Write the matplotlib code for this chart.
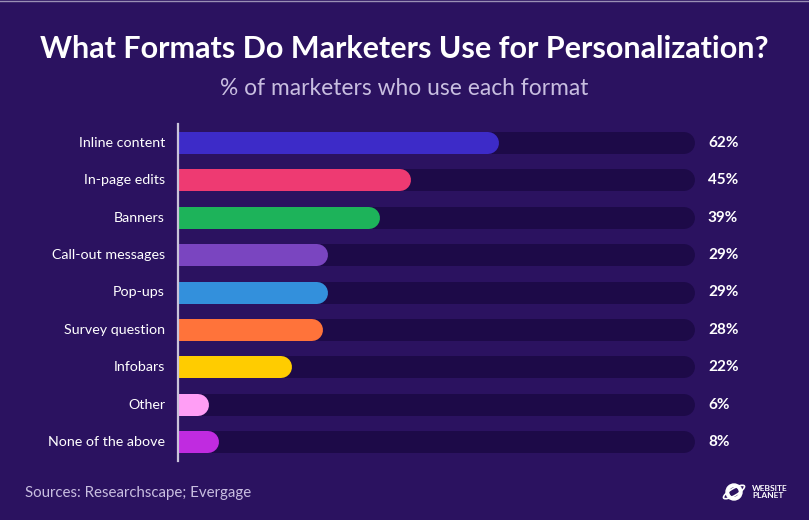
import matplotlib.pyplot as plt
from matplotlib.patches import Circle, Ellipse

# data
formats = ['Inline content', 'In-page edits', 'Banners', 'Call-out messages', 'Pop-ups',
           'Survey question', 'Infobars', 'Other', 'None of the above']
share = [62, 45, 39, 29, 29, 28, 22, 6, 8]
colors = ['#3D2BC8', '#EE3A72', '#1DB35A', '#7A45C0', '#3390DC',
          '#FF733A', '#FFCC00', '#FF9EF5', '#C02BE0']

bg = '#2B1260'
track = '#1D0A48'
soft = '#C8BEE0'

plt.rcParams['font.family'] = ['Lato', 'DejaVu Sans']

fig = plt.figure(figsize=(8.09, 5.20), dpi=100, facecolor=bg)
# axes spans pixel x 178..695, y 124..461
ax = fig.add_axes([178 / 809, 59 / 520, (695 - 178) / 809, 337 / 520])
ax.set_facecolor(bg)
ax.set_xlim(0, 100)
ax.set_ylim(8.5, -0.5)

px_per_unit = (695 - 178) / 100
bar_px = 22
lw = bar_px * 72 / 100
r = (bar_px / 2) / px_per_unit  # cap radius in data units

for i, (name, v, c) in enumerate(zip(formats, share, colors)):
    # background track up to 100%
    ax.plot([-r, 100 - r], [i, i], color=track, lw=lw, solid_capstyle='round', zorder=1)
    ax.plot([-r, v - r], [i, i], color=c, lw=lw, solid_capstyle='round', zorder=2)
    ax.text(-2.5, i, name, ha='right', va='center', color='white', fontsize=10.3, clip_on=False)
    ax.text(102.5, i, f'{v}%', ha='left', va='center', color='white', fontsize=11,
            fontweight='bold', clip_on=False)

for s in ['top', 'right', 'bottom']:
    ax.spines[s].set_visible(False)
ax.spines['left'].set_color('#C9C3D9')
ax.spines['left'].set_linewidth(1.6)
ax.spines['left'].set_zorder(5)
ax.set_xticks([])
ax.set_yticks([])

fig.text(0.5, 1 - 49 / 520, 'What Formats Do Marketers Use for Personalization?', ha='center', va='center',
         color='white', fontsize=22, fontweight='bold')
fig.text(0.5, 1 - 88 / 520, '% of marketers who use each format', ha='center', va='center',
         color=soft, fontsize=16.4)
fig.text(25 / 809, 1 - 493 / 520, 'Sources: Researchscape; Evergage', ha='left', va='center',
         color=soft, fontsize=10.8)

# logo
fig.text(752 / 809, 1 - 492 / 520, 'WEBSITE\nPLANET', ha='left', va='center', color='white',
         fontsize=6, fontweight='bold', linespacing=1.1)
lax = fig.add_axes([722 / 809, 1 - 503 / 520, 24 / 809, 22 / 520])
lax.set_xlim(0, 24)
lax.set_ylim(0, 22)
lax.axis('off')
lax.add_patch(Circle((12, 11), 8, color='white'))
lax.add_patch(Circle((12, 11), 4, color=bg))
lax.add_patch(Ellipse((12, 11), 24, 7, angle=30, fill=False, ec='white', lw=1.2))

# thin top border
fig.add_artist(plt.Line2D([0, 1], [0.999, 0.999], color='#9A8FB5', lw=1))

fig.savefig('out.png', dpi=100, facecolor=bg)
